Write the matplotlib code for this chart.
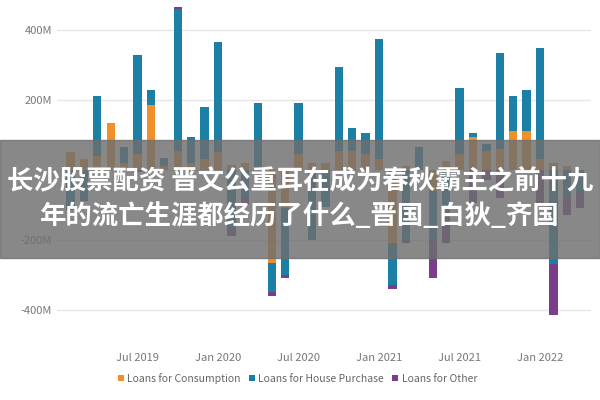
import matplotlib
matplotlib.use("Agg")
import matplotlib.pyplot as plt
import pandas as pd
import numpy as np

plt.rcParams['font.family'] = ['Noto Sans CJK SC', 'DejaVu Sans']

months = pd.date_range("2019-02-01", periods=39, freq="MS")
consumption = [50, 30, 40, 135, 20, 45, 185, 10, 55, 20, 30, 50, 15, 20, 0, -265, -110, 45, 20,
               20, 55, 55, 45, 30, -210, 10, 0, -60, 25, 45, 95, 55, 60, 110, 110, 30, 20, 10, 0]
house = [-105, -85, 170, 0, 45, 285, 45, 25, 405, 75, 150, 315, -170, -80, 190, -85, -190, 145, -200,
         -105, 240, 65, 60, 345, -120, -200, 65, -140, -120, 190, 10, 20, 275, 100, 120, 320, -270, -80, -60]
other = [-10, -5, 0, 0, 0, -5, 0, 0, 5, 0, 0, 0, -20, -20, 0, -10, -10, 0, 0,
         0, 0, 0, 0, 0, -10, -10, 0, -110, -90, 0, -95, -30, -80, 0, 0, -95, -145, -50, -50]

colors = ["#F0902A", "#1C7FA6", "#7A3D8A"]
names = ["Loans for Consumption", "Loans for House Purchase", "Loans for Other"]

fig = plt.figure(figsize=(6, 4), dpi=100)
ax = fig.add_axes([0.095, 0.13, 0.89, 0.857])
x = np.arange(len(months))
pos = np.zeros(len(x)); neg = np.zeros(len(x))
for vals, c, n in zip([consumption, house, other], colors, names):
    v = np.array(vals, dtype=float)
    bottom = np.where(v >= 0, pos, neg)
    ax.bar(x, v, bottom=bottom, width=0.62, color=c, label=n)
    pos += np.where(v >= 0, v, 0); neg += np.where(v < 0, v, 0)

ax.set_ylim(-509, 471)
ax.set_xlim(-1.0, len(x) - 0.2)
ax.set_yticks([-400, -200, 0, 200, 400])
ax.set_yticklabels(["-400M", "-200M", "", "200M", "400M"])
ticks = [5, 11, 17, 23, 29, 35]
ax.set_xticks(ticks)
ax.set_xticklabels([months[i].strftime("%b %Y") for i in ticks])
ax.tick_params(colors="#777777", labelsize=8, length=0)
ax.grid(axis="y", color="#e6e6e6", lw=1)
ax.set_axisbelow(True)
for s in ax.spines.values():
    s.set_visible(False)
ax.legend(loc="upper center", bbox_to_anchor=(0.45, -0.045), ncol=3, frameon=False,
          fontsize=7.5, handlelength=0.6, handleheight=0.6, columnspacing=0.8, handletextpad=0.3,
          labelcolor="#666666")

fig.patches.append(plt.Rectangle((0, 0.355), 1, 0.295, transform=fig.transFigure,
                                 color="#6e6e6e", alpha=0.82, zorder=10))
fig.text(0.5, 0.545, "长沙股票配资 晋文公重耳在成为春秋霸主之前十九", ha="center", va="center",
         color="white", fontsize=19, fontweight="bold", zorder=11)
fig.text(0.5, 0.46, "年的流亡生涯都经历了什么_晋国_白狄_齐国", ha="center", va="center",
         color="white", fontsize=19, fontweight="bold", zorder=11)
fig.savefig("out.png", dpi=100)
